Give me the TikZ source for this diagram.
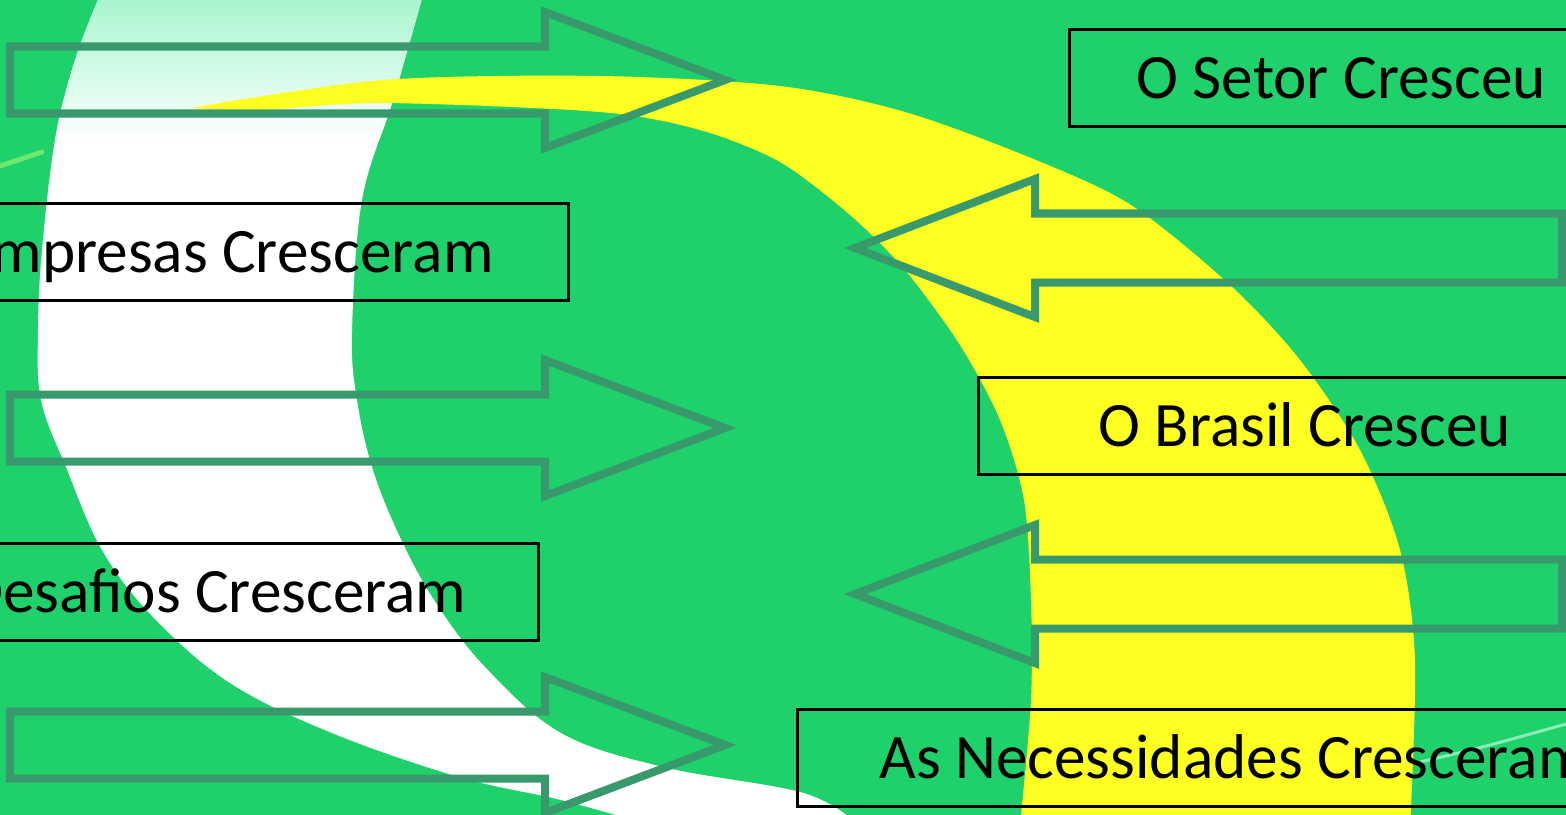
\documentclass[tikz,border=0pt]{standalone}
\usepackage{fontspec}
\setmainfont{Carlito}
\usepackage{tikz}
\usetikzlibrary{calc}

\definecolor{bggreen}{RGB}{30,209,106}
\definecolor{arrowgreen}{RGB}{56,154,108}
\definecolor{sunyellow}{RGB}{255,255,34}
\definecolor{mint}{RGB}{165,245,205}
\definecolor{lime}{RGB}{110,232,110}

\tikzset{
	txtbox/.style={draw=black, line width=0.03cm, minimum height=0.97cm, text height=0.41cm, text depth=0cm, font=\fontsize{18}{22}\selectfont},
	blockarrow/.style={draw=arrowgreen, line width=0.08cm, line join=miter}
}

\begin{document}
\begin{tikzpicture}[x=0.01cm, y=-0.01cm]
		\useasboundingbox (0,0) rectangle (1566,815);
		\clip (0,0) rectangle (1566,815);
		
		% background
		\fill[bggreen] (0,0) rectangle (1566,815);
		
		% white band, mint at the top
		\begin{scope}
			\clip plot[smooth, tension=0.6] coordinates {(100,-5) (75,60) (55,140) (42,250) (38,330) (41,400) (66,467) (102,550) (153,617) (230,683) (332,733) (459,777) (561,800) (650,825)}
				-- (850,825) -- plot[smooth, tension=0.6] coordinates {(850,818) (800,792) (663,767) (561,733) (485,667) (434,600) (398,533) (372,467) (357,400) (352,333) (362,200) (393,100) (423,-5)} -- cycle;
			\fill[white] (0,-10) rectangle (900,830);
			\shade[top color=mint, bottom color=white] (0,-5) rectangle (500,140);
		\end{scope}
		\draw[lime, line width=0.05cm, line cap=round] (0,166) -- (42,152);
		
		% yellow band
		\fill[sunyellow] plot[smooth, tension=0.5] coordinates {(190,108) (383,80) (600,76) (780,86) (905,112) (1031,158) (1131,205) (1230,285) (1300,360) (1360,450) (1400,550) (1415,660) (1410,830)}
			-- (1021,830) -- plot[smooth, tension=0.5] coordinates {(1021,815) (1031,700) (1031,600) (1024,500) (1000,420) (960,345) (905,270) (850,215) (780,162) (700,130) (600,112) (383,103) (260,110) (190,108)} -- cycle;
		\draw[mint, line width=0.03cm, opacity=0.8] (1420,762) .. controls (1480,748) .. (1566,724);
		
		% arrows to the right
		\foreach \yc in {80,428,745} {
			\draw[blockarrow] (10,\yc-33.5) -- (545,\yc-33.5) -- (545,\yc-68) -- (725,\yc) -- (545,\yc+68) -- (545,\yc+33.5) -- (10,\yc+33.5) -- cycle;
		}
		% arrows to the left
		\foreach \yc in {248,594} {
			\draw[blockarrow] (1562,\yc-34.5) -- (1035,\yc-34.5) -- (1035,\yc-69) -- (855,\yc) -- (1035,\yc+69) -- (1035,\yc+34.5) -- (1562,\yc+34.5) -- cycle;
		}
		
		% text boxes
		\node[txtbox, anchor=north west, inner xsep=0.67cm] (setor) at (1068,28) {O Setor Cresceu};
		\node[txtbox, anchor=north east, inner xsep=0.75cm] (empresas) at (570,202) {Empresas Cresceram};
		\node[txtbox, anchor=north west, inner xsep=1.2cm] (brasil) at (977,376) {O Brasil Cresceu};
		\node[txtbox, anchor=north east, inner xsep=0.72cm] (desafios) at (540,542) {Desafios Cresceram};
		\node[txtbox, anchor=north west, inner xsep=0.82cm] (necessidades) at (796,708) {As Necessidades Cresceram};
	\end{tikzpicture}
\end{document}
